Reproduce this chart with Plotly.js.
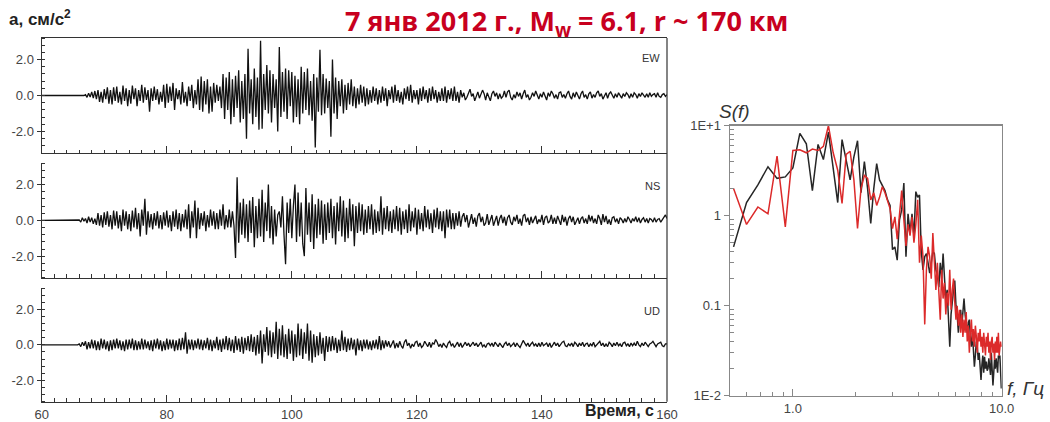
<!DOCTYPE html>
<html><head><meta charset="utf-8">
<script src="https://cdn.plot.ly/plotly-3.0.1.min.js"></script>
<style>html,body{margin:0;padding:0;background:#fff}#chart{width:1050px;height:422px}</style>
</head><body><div id="chart"></div>
<script>
// ---- time grid of the accelerograms (s) ----
const T0 = 60, DT = 0.25;
// ---- acceleration, cm/s^2, one value per 0.25 s from 60 s ----
const accEW = [
0,0,0,0, 0,0,0,0, 0,0,0,0, 0,0,0,0, 0,0,0,0, 0,0,0,0, 0,0,0,0,
0.05,-0.1,0.12,-0.08, 0.2,-0.15,0.25,-0.2, 0.3,-0.35,0.2,-0.4, 0.35,-0.2,0.45,-0.45,
0.3,-0.5,0.45,-0.3, 0.5,-0.4,0.2,-0.5, 0.55,-0.3,0.4,-0.6, 0.3,-0.45,0.55,-0.2,
0.4,-0.6,0.3,-0.3, 0.6,-0.4,0.45,-0.25, 0.3,-0.9,0.4,-0.3, 0.5,-0.25,0.35,-0.5,
0.2,-0.35,0.6,-0.7, 0.65,-0.4,0.5,-0.3, 0.7,-0.8,0.4,-0.2, 0.3,-0.5,0.75,-0.4,
0.2,-0.6,0.5,-0.3, 0.6,-0.7,0.3,-0.5, 0.9,-0.8,1.05,-0.9, 0.8,-0.5,0.9,-1.0,
0.5,-0.9,0.7,-0.4, 0.6,-0.3,0.5,-0.7, 1.2,-1.3,1.0,-0.8, 1.3,-1.6,0.9,-1.2,
1.1,-0.7,1.4,-1.5, 0.8,-1.3,1.2,-2.4, 2.6,-1.0,0.9,-1.6, 1.5,-1.2,1.0,-1.9,
3.05,-1.85,1.2,-0.8, 1.7,-1.0,1.4,-1.5, 1.2,-0.7,0.9,-2.0, 2.7,-1.2,1.3,-0.9,
1.5,-1.3,1.4,-0.6, 1.3,-1.5,1.1,-1.2, 0.9,-1.6,1.6,-1.0, 1.3,-0.8,1.5,-1.1,
0.8,-1.4,1.2,-2.9, 1.0,-0.9,2.55,-1.1, 1.2,-1.0,0.95,-0.7, 0.8,-2.3,2.0,-1.0,
1.0,-1.3,0.8,-0.6, 0.9,-1.0,0.6,-0.8, 0.7,-0.5,0.9,-0.6, 0.5,-0.7,0.4,-0.5,
0.6,-0.4,0.5,-0.6, 0.4,-0.5,0.3,-0.4, 0.5,-0.3,0.4,-0.5, 0.3,-0.4,0.5,-0.3,
0.4,-0.6,0.3,-0.2, 0.5,-0.4,0.6,-0.3, 0.3,-0.4,0.2,-0.5, 0.4,-0.2,0.5,-0.3,
0.6,-0.4,0.3,-0.2, 0.3,-0.5,0.4,-0.3, 0.5,-0.2,0.3,-0.4, 0.4,-0.3,0.5,-0.2,
0.3,-0.4,0.2,-0.3, 0.4,-0.3,0.5,-0.4, 0.3,-0.2,0.4,-0.3, 0.5,-0.3,0.2,-0.4,
0.3,-0.1,0.15,-0.25, -0.1,0.2,0.35,-0.05, 0.1,-0.3,-0.1,0.2, -0.15,0.05,0.3,0.1,
-0.25,0.15,-0.1,-0.3, 0.1,0.25,-0.05,0.15, -0.2,0.1,-0.15,-0.05, 0.25,-0.1,0.2,0.3,
-0.1,-0.25,0.05,-0.15, 0.2,-0.05,0.15,-0.2, 0.1,0.3,-0.1,0.05, -0.25,-0.1,0.15,-0.05,
0.25,0.05,-0.2,0.1, -0.1,0.2,-0.05,-0.25, 0.15,-0.05,0.25,0.1, -0.15,0.05,-0.2,0.15,
0.2,-0.1,0.05,-0.15, 0.1,0.25,-0.05,-0.2, 0.15,-0.1,0.2,-0.05, -0.2,0.1,0.25,-0.1,
0.05,-0.2,0.1,0.2, -0.15,0.05,-0.1,0.15, 0.25,-0.05,0.1,-0.2, -0.05,0.15,-0.15,0.1,
0.2,0.05,-0.15,0.1, -0.1,0.15,-0.05,-0.15, 0.1,-0.05,0.15,0.05, -0.15,0.1,-0.1,0.15,
0.05,-0.15,0.1,-0.05, 0.15,0.0,-0.1,0.1, -0.1,0.15,-0.05,0.05, 0.1,-0.1,0.15,-0.05,
-0.1,0.05,0.1,-0.05, 0.05];
const accNS = [
0,0,0,0, 0,0,0,0, 0,0,0,0, 0,0,0,0, 0,0,0,0, 0,0,0,0,
0.02,-0.1,0.15,-0.05, 0.1,-0.15,0.2,-0.1, 0.15,-0.2,0.1,-0.25, 0.4,-0.3,0.3,-0.4,
0.45,-0.25,0.5,-0.35, 0.3,-0.5,0.55,-0.3, 0.5,-0.45,0.3,-0.6, 0.6,-0.3,0.5,-0.5,
0.35,-0.6,0.55,-0.4, 0.7,-0.5,0.4,-0.9, 0.6,-0.3,1.2,-0.8, 0.5,-0.4,0.35,-0.5,
0.4,-0.3,0.5,-0.45, 0.3,-0.5,0.45,-0.3, 0.55,-0.4,0.3,-0.6, 0.5,-0.35,0.6,-0.5,
0.4,-0.6,0.35,-0.4, 0.6,-0.5,0.9,-1.0, 0.5,-0.4,1.1,-1.0, 0.7,-0.5,0.4,-0.3,
0.5,-0.6,0.3,-0.4, 0.6,-0.3,0.5,-0.5, 0.4,-0.5,0.6,-0.3, 0.9,-0.5,0.3,-0.4,
0.6,-0.4,0.5,-0.3, -2.1,2.4,-1.25,1.0, -0.8,1.2,-1.0,0.9, -1.2,1.1,-0.7,1.3,
-1.5,0.8,-1.0,1.2, -0.9,1.7,-1.2,1.0, -0.6,2.0,-1.0,0.8, -1.35,0.6,-0.9,0.3,
0.5,-0.4,1.35,-0.8, -2.45,1.0,-0.7,1.2, -1.0,0.8,2.0,-1.2, 1.55,-0.9,1.0,-1.3,
-2.0,1.8,-0.8,1.0, -1.2,1.45,-1.6,0.9, -1.0,1.2,-0.8,1.1, -1.3,0.9,-1.1,1.0,
-0.7,1.2,-1.0,0.8, -1.35,1.0,-0.6,1.35, -0.9,1.1,-1.2,0.7, -1.0,1.2,-0.6,0.9,
-1.45,0.8,-0.7,1.0, -0.6,0.9,-0.8,0.6, -0.7,0.8,-0.5,0.9, -0.8,0.6,-0.7,0.5,
-0.6,1.35,-0.8,0.7, -0.5,0.8,-0.6,0.5, -0.7,0.6,-0.5,0.8, -0.6,0.7,-0.8,0.5,
-0.5,0.6,-0.7,0.9, -0.6,0.5,-0.4,0.7, -0.8,0.6,-0.5,0.4, -0.6,0.8,-0.4,0.6,
-0.5,0.4,-0.7,0.6, -0.4,0.7,-0.5,0.5, -0.6,0.5,-1.0,0.6, -0.4,0.6,-0.5,0.4,
-0.5,0.4,-0.3,0.5,
-0.35,0.2,0.4,-0.1, 0.3,-0.4,-0.1,0.35, -0.2,0.15,-0.35,0.25, 0.4,-0.1,0.2,-0.3,
-0.15,0.35,-0.25,0.1, 0.3,-0.3,-0.05,0.25, -0.3,0.1,0.3,-0.15, 0.2,-0.3,0.15,0.3,
-0.1,-0.25,0.2,-0.05, 0.3,-0.2,0.1,-0.3, 0.25,0.35,-0.1,0.15, -0.25,0.2,-0.15,0.1,
0.25,-0.2,0.05,-0.1, 0.3,-0.25,0.15,0.25, -0.15,-0.05,0.3,-0.2, 0.15,-0.2,0.25,0.0,
-0.25,0.3,-0.1,0.2, -0.3,0.1,0.25,-0.1, 0.2,-0.25,-0.05,0.15, -0.2,0.1,0.2,-0.15,
0.1,-0.2,0.3,-0.05, 0.25,-0.15,0.1,-0.2, 0.3,0.1,-0.25,0.35, -0.1,0.25,-0.2,0.05,
-0.25,0.15,0.2,-0.1, 0.1,-0.2,0.15,0.05, -0.15,0.1,-0.1,0.2, 0.05,-0.15,0.1,-0.05,
0.2,-0.1,0.15,-0.15, 0.05,0.15,-0.1,0.1, -0.15,0.1,0.05,-0.1, 0.15,-0.1,0.05,0.1,
-0.1,0.05,0.15,0.3, 0.1];
const accUD = [
0,0,0,0, 0,0,0,0, 0,0,0,0, 0,0,0,0, 0,0,0,0, 0,0,0,0,
0.05,-0.1,0.15,-0.05, 0.2,-0.25,0.15,-0.2, 0.3,-0.2,0.25,-0.3, 0.2,-0.3,0.35,-0.2,
0.3,-0.25,0.2,-0.35, 0.25,-0.3,0.3,-0.2, 0.35,-0.2,0.25,-0.3, 0.2,-0.35,0.3,-0.25,
0.3,-0.2,0.35,-0.3, 0.25,-0.3,0.2,-0.25, 0.35,-0.25,0.3,-0.2, 0.2,-0.3,0.25,-0.35,
0.3,-0.2,0.35,-0.25, 0.25,-0.35,0.2,-0.3, 0.35,-0.25,0.3,-0.2, 0.3,-0.35,0.25,-0.3,
0.35,-0.3,0.4,-0.25, 0.7,-0.5,0.3,-0.25, 0.3,-0.3,0.25,-0.2, 0.35,-0.25,0.3,-0.3,
0.25,-0.2,0.4,-0.3, 0.3,-0.35,0.25,-0.2, 0.45,-0.3,0.3,-0.4, 0.35,-0.25,0.5,-0.3,
0.4,-0.35,0.3,-0.45, 0.5,-0.3,0.35,-0.4, 0.45,-0.5,0.4,-0.3, 0.5,-0.35,0.6,-0.4,
0.45,-0.6,0.55,-0.5, 0.8,-1.05,0.6,-0.4, 1.0,-0.6,0.8,-0.7, 0.7,-0.5,1.3,-0.8,
0.9,-0.6,1.1,-0.7, 0.6,-0.8,0.9,-0.5, 0.8,-0.9,0.6,-0.7, 1.2,-0.6,0.9,-0.8,
0.7,-0.5,1.2,-0.9, 0.8,-1.0,0.6,-0.7, 0.5,-0.6,0.7,-0.5, 0.4,-0.9,0.5,-0.4,
0.45,-0.35,0.5,-0.3, 0.4,-0.45,0.3,-0.35, 0.8,-0.3,0.45,-0.4, 0.35,-0.3,0.4,-0.25,
0.3,-0.6,0.35,-0.3, 0.25,-0.35,0.3,-0.2, 0.3,-0.25,0.2,-0.3, 0.25,-0.2,0.3,-0.25,
0.5,-0.3,0.25,-0.2,
0.25,-0.1,0.2,-0.15, 0.05,0.25,-0.2,0.1, -0.15,0.2,-0.05,-0.2, 0.15,0.3,-0.05,0.1,
-0.2,0.05,-0.1,0.15, 0.2,-0.1,0.1,-0.15, -0.05,0.2,0.05,-0.1, 0.15,-0.15,0.1,0.05,
0.3,0.15,-0.1,0.05, -0.15,0.1,-0.05,-0.15, 0.1,0.2,-0.05,0.05, -0.15,0.05,0.15,-0.1,
0.1,-0.15,0.05,0.15, -0.05,0.1,-0.1,0.05, 0.15,-0.05,0.1,-0.1, 0.05,0.15,-0.1,0.0,
-0.15,0.05,0.1,-0.05, 0.1,-0.1,0.15,0.05, -0.1,0.1,-0.05,-0.15, 0.05,0.15,-0.05,0.1,
-0.1,0.0,0.1,-0.1, 0.1,-0.05,-0.15,0.05, 0.25,0.1,-0.05,0.1, -0.1,0.05,0.15,-0.05,
0.05,-0.1,0.1,-0.1, 0.15,-0.05,0.05,0.1, -0.1,0.1,-0.15,0.05, 0.15,-0.05,0.1,-0.1,
0.05,0.15,0.2,-0.05, -0.1,0.05,-0.05,0.1, -0.1,0.15,0.05,-0.1, 0.1,-0.05,0.15,-0.1,
0.05,0.1,-0.1,0.05, -0.05,0.15,-0.1,0.0, 0.1,0.2,-0.05,0.1, -0.1,0.05,-0.1,0.15,
0.05,-0.1,0.1,-0.05, 0.15,-0.05,0.05,-0.1, 0.1,0.15,-0.05,0.05, -0.1,0.1,-0.05,0.1,
-0.05,0.2,0.0,-0.1, 0.1,-0.05,0.15,0.05, -0.1,0.05,0.1,0.2, 0.0,-0.1,0.05,0.1,
0.15,-0.05,-0.1,0.05, 0.05];
const componentNames = ['EW', 'NS', 'UD'];
const timeTicks = [60, 80, 100, 120, 140, 160];
const accTicks = [-2, 0, 2];
const accTickText = ['-2.0', '0.0', '2.0'];

// ---- Fourier spectra S(f), frequency grid from 0.52 Hz, step 0.08 Hz ----
const F0 = 0.52, DF = 0.08;
const specBlack = [
0.45,1.4,2.2,3.5,2.6,2.7,3.4,8.2,6.3,1.9,
6.2,4.2,8.5,3.5,1.4,7.0,4.0,2.5,4.5,6.8,
1.8,4.0,2.0,0.82,2.0,3.8,2.5,2.2,1.9,1.5,
1.3,0.42,0.45,0.32,0.9,1.16,2.3,0.35,1.05,0.65,
1.05,0.6,1.85,1.6,1.7,0.4,0.25,0.35,0.38,0.3,
0.23,0.3,0.4,0.38,0.25,0.22,0.16,0.3,0.2,0.38,
0.2,0.115,0.15,0.06,0.035,0.08,0.12,0.15,0.19,0.1,
0.08,0.05,0.07,0.09,0.06,0.1,0.12,0.08,0.06,0.05,
0.065,0.07,0.045,0.035,0.05,0.03,0.021,0.028,0.04,0.035,
0.025,0.03,0.02,0.015,0.022,0.028,0.018,0.027,0.02,0.024,
0.019,0.02,0.026,0.022,0.017,0.03,0.02,0.013,0.018,0.025,
0.02,0.026,0.022,0.018,0.028,0.026,0.028,0.02,0.012];
const specRed = [
2.0,0.8,1.25,1.05,4.6,0.75,5.3,5.4,5.0,5.5,
5.3,5.9,10.0,5.0,3.2,1.37,4.8,5.2,2.5,0.72,
2.0,2.8,2.6,1.5,1.8,1.3,1.6,2.1,1.8,1.5,
1.2,0.72,0.97,0.55,1.1,1.9,0.9,0.46,0.8,0.6,
0.97,0.5,0.8,1.5,0.3,0.6,0.35,0.062,0.25,0.45,
0.35,0.2,0.64,0.3,0.15,0.3,0.12,0.07,0.25,0.12,
0.18,0.08,0.14,0.1,0.25,0.09,0.15,0.2,0.11,0.07,
0.1,0.06,0.09,0.05,0.08,0.045,0.07,0.05,0.085,0.04,
0.06,0.03,0.05,0.07,0.04,0.055,0.035,0.06,0.045,0.03,
0.05,0.04,0.055,0.035,0.045,0.03,0.05,0.04,0.028,0.045,
0.035,0.05,0.03,0.04,0.025,0.04,0.045,0.03,0.038,0.025,
0.04,0.03,0.045,0.03,0.05,0.028,0.035,0.04,0.035];
const freqTicks = [1, 10];
const freqTickText = ['1.0', '10.0'];
const specTicks = [0.01, 0.1, 1, 10];
const specTickText = ['1E-2', '0.1', '1', '1E+1'];

// ---- build grids ----
const tGrid = accEW.map((_, i) => T0 + i * DT);
const fGrid = specBlack.map((_, i) => F0 + i * DF);
const freqMinor = [], specMinor = [];
for (let d = 0.1; d <= 1.01; d *= 10) for (let m = 2; m <= 9; m++) freqMinor.push(+(m * d).toFixed(3));
for (let d = 0.01; d <= 1.01; d *= 10) for (let m = 2; m <= 9; m++) specMinor.push(+(m * d).toFixed(4));

// ---- layout geometry (paper fractions) ----
const W = 1050, H = 422;
const px = v => v / W, py = v => 1 - v / H;
const XD = [px(41.7), px(667)];
const YD = [[py(153), py(38)], [py(277.7), py(163)], [py(401.7), py(288)]];
const XS = [px(730), px(1001.7)];
const YS = [py(395.7), py(125.7)];

const FONT = 'Liberation Sans, Arial, sans-serif';
const AX = '#333';
const traces = [];
const accs = [accEW, accNS, accUD];
accs.forEach((a, k) => {
  traces.push({
    type: 'scatter', mode: 'lines', x: tGrid, y: a,
    xaxis: k === 0 ? 'x' : 'x' + (k + 1), yaxis: k === 0 ? 'y' : 'y' + (k + 1),
    line: {color: '#111', width: 1.3}, hoverinfo: 'skip'
  });
});
traces.push({type: 'scatter', mode: 'lines', x: fGrid, y: specBlack, xaxis: 'x4', yaxis: 'y4',
  line: {color: '#262626', width: 1.5}});
traces.push({type: 'scatter', mode: 'lines', x: fGrid, y: specRed, xaxis: 'x4', yaxis: 'y4',
  line: {color: '#dc2a2a', width: 1.5}});

const layout = {
  width: W, height: H, margin: {l: 0, r: 0, t: 0, b: 0},
  paper_bgcolor: '#fff', plot_bgcolor: '#fff', showlegend: false,
  font: {family: FONT, size: 13, color: '#444'},
  annotations: [], shapes: []
};
for (let k = 0; k < 3; k++) {
  const xs = k === 0 ? '' : String(k + 1);
  layout['xaxis' + xs] = {
    domain: XD, anchor: 'y' + xs, range: [60, 160],
    showline: true, linecolor: AX, linewidth: 1.2, mirror: k === 0,
    showgrid: false, zeroline: false,
    tickmode: 'array', tickvals: timeTicks, ticks: 'inside', ticklen: 7, tickcolor: AX, tickwidth: 1,
    showticklabels: k === 2, tickfont: {family: FONT, size: 13, color: '#444'},
    minor: {dtick: 2, tick0: 60, ticks: 'inside', ticklen: 3.5, tickcolor: AX, tickwidth: 1}
  };
  layout['yaxis' + xs] = {
    domain: YD[k], anchor: 'x' + xs, range: [-3.2, 3.2],
    showline: true, linecolor: AX, linewidth: 1.2,
    showgrid: false, zeroline: false,
    tickmode: 'array', tickvals: accTicks, ticktext: accTickText,
    ticks: 'outside', ticklen: 4, tickcolor: AX, tickwidth: 1,
    tickfont: {family: FONT, size: 13, color: '#444'},
    minor: {dtick: 0.4, tick0: 0, ticks: 'inside', ticklen: 3.5, tickcolor: AX, tickwidth: 1}
  };
  layout.annotations.push({
    text: componentNames[k], xref: 'paper', yref: 'paper',
    x: px(662), y: YD[k][1] - (k === 0 ? 20 : 23) / H, xanchor: 'right', yanchor: 'middle',
    showarrow: false, font: {family: FONT, size: 11, color: '#333'}
  });
}
layout.xaxis4 = {
  type: 'log', domain: XS, anchor: 'y4', range: [Math.log10(0.5), 1],
  showline: true, mirror: true, linecolor: '#888', linewidth: 1.5,
  showgrid: false, zeroline: false,
  tickmode: 'array', tickvals: freqTicks, ticktext: freqTickText,
  ticks: 'inside', ticklen: 7, tickcolor: '#888', tickwidth: 1,
  tickfont: {family: FONT, size: 13, color: '#444'},
  minor: {tickmode: 'array', tickvals: freqMinor, ticks: 'inside', ticklen: 4, tickcolor: '#888', tickwidth: 1}
};
layout.yaxis4 = {
  type: 'log', domain: YS, anchor: 'x4', range: [-2, 1],
  showline: true, mirror: true, linecolor: '#888', linewidth: 1.5,
  showgrid: false, zeroline: false,
  tickmode: 'array', tickvals: specTicks, ticktext: specTickText,
  ticks: 'outside', ticklen: 5, tickcolor: '#888', tickwidth: 1,
  tickfont: {family: FONT, size: 13, color: '#444'},
  minor: {tickmode: 'array', tickvals: specMinor, ticks: 'inside', ticklen: 4, tickcolor: '#888', tickwidth: 1}
};
// continuous right frame of the three accelerogram panels
layout.shapes.push({type: 'line', xref: 'paper', yref: 'paper',
  x0: XD[1], x1: XD[1], y0: YD[2][0], y1: YD[0][1], line: {color: AX, width: 1.2}});

layout.annotations.push(
  {text: '<b>7 янв 2012 г., M<sub>w</sub> = 6.1, r ~ 170 км</b>', xref: 'paper', yref: 'paper',
   x: px(566), y: 1, xanchor: 'center', yanchor: 'top', showarrow: false,
   font: {family: 'Open Sans, sans-serif', size: 27, color: '#c8001e'}},
  {text: '<b>a, см/с<sup>2</sup></b>', xref: 'paper', yref: 'paper',
   x: px(7), y: py(18), xanchor: 'left', yanchor: 'middle', showarrow: false,
   font: {family: FONT, size: 17, color: '#222'}},
  {text: '<b>Время, с</b>', xref: 'paper', yref: 'paper',
   x: px(619), y: py(410), xanchor: 'center', yanchor: 'middle', showarrow: false,
   font: {family: FONT, size: 16, color: '#222'}},
  {text: '<i>S(f)</i>', xref: 'paper', yref: 'paper',
   x: px(717), y: py(111), xanchor: 'left', yanchor: 'middle', showarrow: false,
   font: {family: FONT, size: 19, color: '#333'}},
  {text: '<i>f, Гц</i>', xref: 'paper', yref: 'paper',
   x: px(1005), y: py(388), xanchor: 'left', yanchor: 'middle', showarrow: false,
   font: {family: FONT, size: 19, color: '#333'}}
);

Plotly.newPlot('chart', traces, layout, {staticPlot: true, displayModeBar: false});
</script></body></html>
